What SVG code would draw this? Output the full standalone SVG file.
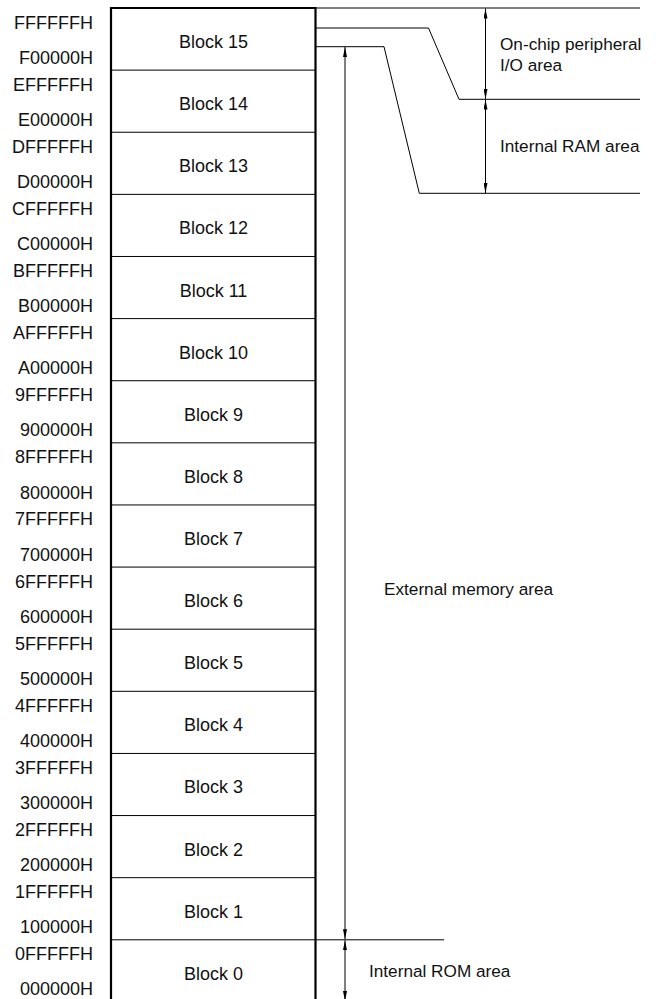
<svg xmlns="http://www.w3.org/2000/svg" width="656" height="999" viewBox="0 0 656 999">
<style>
text{font-family:"Liberation Sans",Arial,Helvetica,sans-serif;font-size:17.2px;fill:#111}
.addr{text-anchor:end;font-size:18px}
.blk{text-anchor:middle;font-size:18px}
.div{stroke:#000;stroke-width:1;fill:none}
.frame{stroke:#000;stroke-width:2.2;fill:none}
.conn{stroke:#000;stroke-width:1;fill:none}
.arr{stroke:#000;stroke-width:1;fill:none;marker-start:url(#ah);marker-end:url(#ah)}
</style>
<defs>
<marker id="ah" viewBox="0 0 10 4" refX="10" refY="2" markerWidth="10" markerHeight="4" markerUnits="userSpaceOnUse" orient="auto-start-reverse">
<path d="M0,0 L10,2 L0,4 Z" fill="#000"/>
</marker>
</defs>
<rect width="656" height="999" fill="#fff"/>

<g id="memory-map">
<path class="frame" d="M111,1003 V8 H315.5 V1003"/>
<g class="div">
<line x1="111" y1="70.12" x2="315" y2="70.12"/>
<line x1="111" y1="132.24" x2="315" y2="132.24"/>
<line x1="111" y1="194.36" x2="315" y2="194.36"/>
<line x1="111" y1="256.48" x2="315" y2="256.48"/>
<line x1="111" y1="318.6" x2="315" y2="318.6"/>
<line x1="111" y1="380.72" x2="315" y2="380.72"/>
<line x1="111" y1="442.84" x2="315" y2="442.84"/>
<line x1="111" y1="504.96" x2="315" y2="504.96"/>
<line x1="111" y1="567.08" x2="315" y2="567.08"/>
<line x1="111" y1="629.2" x2="315" y2="629.2"/>
<line x1="111" y1="691.32" x2="315" y2="691.32"/>
<line x1="111" y1="753.44" x2="315" y2="753.44"/>
<line x1="111" y1="815.56" x2="315" y2="815.56"/>
<line x1="111" y1="877.68" x2="315" y2="877.68"/>
<line x1="111" y1="939.8" x2="315" y2="939.8"/>
</g>
</g>

<g id="block15"><text class="addr" x="93" y="29">FFFFFFH</text><text class="blk" x="213.5" y="48">Block 15</text><text class="addr" x="93" y="63.5">F00000H</text></g>
<g id="block14"><text class="addr" x="93" y="90.6">EFFFFFH</text><text class="blk" x="213.5" y="110.1">Block 14</text><text class="addr" x="93" y="125.6">E00000H</text></g>
<g id="block13"><text class="addr" x="93" y="152.7">DFFFFFH</text><text class="blk" x="213.5" y="172.2">Block 13</text><text class="addr" x="93" y="187.7">D00000H</text></g>
<g id="block12"><text class="addr" x="93" y="214.9">CFFFFFH</text><text class="blk" x="213.5" y="234.4">Block 12</text><text class="addr" x="93" y="249.9">C00000H</text></g>
<g id="block11"><text class="addr" x="93" y="277">BFFFFFH</text><text class="blk" x="213.5" y="296.5">Block 11</text><text class="addr" x="93" y="312">B00000H</text></g>
<g id="block10"><text class="addr" x="93" y="339.1">AFFFFFH</text><text class="blk" x="213.5" y="358.6">Block 10</text><text class="addr" x="93" y="374.1">A00000H</text></g>
<g id="block9"><text class="addr" x="93" y="401.2">9FFFFFH</text><text class="blk" x="213.5" y="420.7">Block 9</text><text class="addr" x="93" y="436.2">900000H</text></g>
<g id="block8"><text class="addr" x="93" y="463.1">8FFFFFH</text><text class="blk" x="213.5" y="482.8">Block 8</text><text class="addr" x="93" y="498.6">800000H</text></g>
<g id="block7"><text class="addr" x="93" y="525">7FFFFFH</text><text class="blk" x="213.5" y="545">Block 7</text><text class="addr" x="93" y="560.6">700000H</text></g>
<g id="block6"><text class="addr" x="93" y="587.6">6FFFFFH</text><text class="blk" x="213.5" y="607.1">Block 6</text><text class="addr" x="93" y="622.6">600000H</text></g>
<g id="block5"><text class="addr" x="93" y="649.7">5FFFFFH</text><text class="blk" x="213.5" y="669.2">Block 5</text><text class="addr" x="93" y="684.7">500000H</text></g>
<g id="block4"><text class="addr" x="93" y="711.8">4FFFFFH</text><text class="blk" x="213.5" y="731.3">Block 4</text><text class="addr" x="93" y="746.8">400000H</text></g>
<g id="block3"><text class="addr" x="93" y="773.9">3FFFFFH</text><text class="blk" x="213.5" y="793.4">Block 3</text><text class="addr" x="93" y="808.9">300000H</text></g>
<g id="block2"><text class="addr" x="93" y="836.1">2FFFFFH</text><text class="blk" x="213.5" y="855.6">Block 2</text><text class="addr" x="93" y="871.1">200000H</text></g>
<g id="block1"><text class="addr" x="93" y="898.2">1FFFFFH</text><text class="blk" x="213.5" y="917.7">Block 1</text><text class="addr" x="93" y="933.2">100000H</text></g>
<g id="block0"><text class="addr" x="93" y="960.3">0FFFFFH</text><text class="blk" x="213.5" y="979.8">Block 0</text><text class="addr" x="93" y="995.3">000000H</text></g>

<g id="connectors">
<line class="conn" x1="316" y1="8" x2="640" y2="8"/>
<polyline class="conn" points="316,28 428.5,28 459,99.3 640,99.3"/>
<polyline class="conn" points="316,46.7 384,46.7 419.3,193.3 640,193.3"/>
<line class="conn" x1="316" y1="939.8" x2="444" y2="939.8"/>
<line class="arr" x1="485.5" y1="8.5" x2="485.5" y2="99"/>
<line class="arr" x1="485.5" y1="99.6" x2="485.5" y2="193"/>
<line class="arr" x1="345" y1="47" x2="345" y2="939.3"/>
<line class="arr" x1="345" y1="940.3" x2="345" y2="1001"/>
</g>

<g id="labels">
<text x="500" y="49.5">On-chip peripheral</text>
<text x="500" y="71">I/O area</text>
<text x="500" y="152">Internal RAM area</text>
<text x="384" y="595">External memory area</text>
<text x="369" y="976.7">Internal ROM area</text>
</g>
</svg>
